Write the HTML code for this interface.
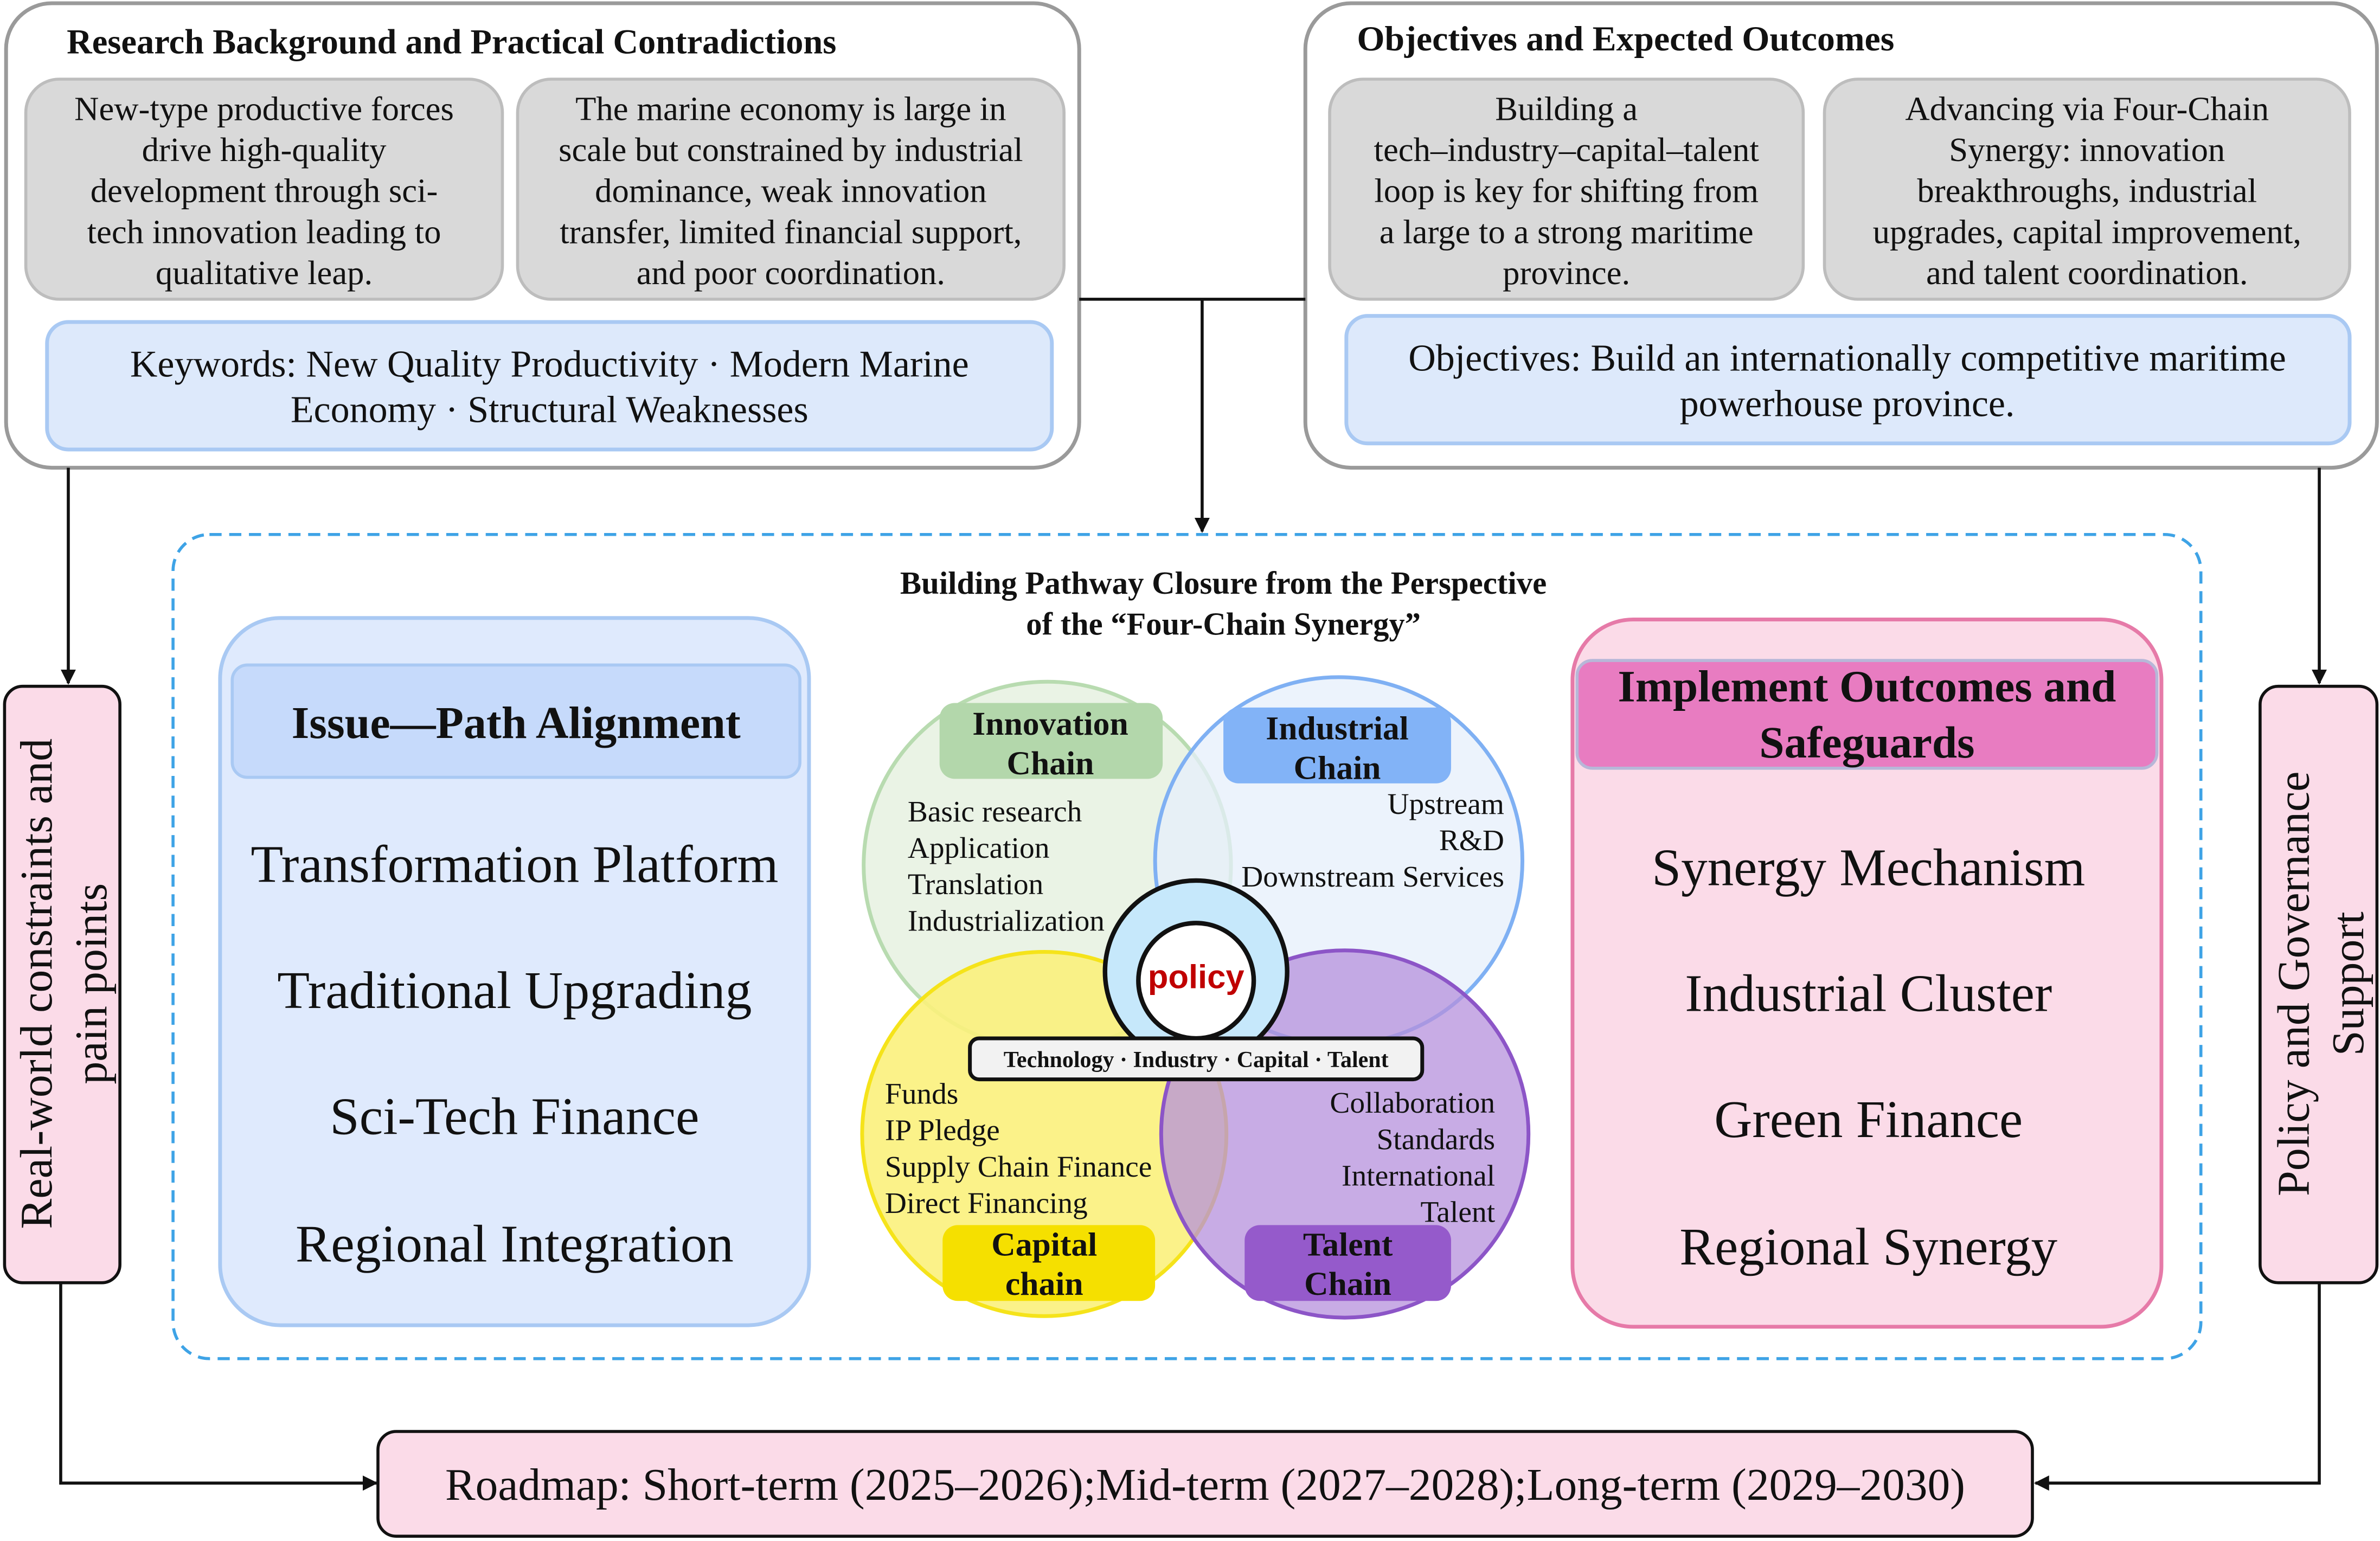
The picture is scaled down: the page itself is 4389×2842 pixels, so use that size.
<!DOCTYPE html>
<html><head><meta charset="utf-8">
<style>
html,body{margin:0;padding:0;background:#fff;}
svg{display:block;}
text{font-family:"Liberation Serif",serif;fill:#111;}
.b{font-weight:bold;}
</style></head>
<body>
<svg width="4389" height="2842" viewBox="0 0 1568 1015" xmlns="http://www.w3.org/2000/svg">
<defs>
<marker id="ar" markerWidth="10" markerHeight="10" refX="9" refY="5" orient="auto" markerUnits="userSpaceOnUse">
<path d="M0,0 L10,5 L0,10 Z" fill="#111"/></marker>
</defs>

<!-- Top left panel -->
<rect x="4" y="2" width="707" height="306" rx="30" fill="#fff" stroke="#9a9a9a" stroke-width="2.5"/>
<text x="44" y="35" font-size="23" font-weight="bold" textLength="507" lengthAdjust="spacingAndGlyphs">Research Background and Practical Contradictions</text>
<rect x="17" y="52" width="314" height="145" rx="22" fill="#d9d9d9" stroke="#bdbdbd" stroke-width="2"/>
<g font-size="22.4" text-anchor="middle">
<text x="174" y="79">New-type productive forces</text>
<text x="174" y="106">drive high-quality</text>
<text x="174" y="133">development through sci-</text>
<text x="174" y="160">tech innovation leading to</text>
<text x="174" y="187">qualitative leap.</text>
</g>
<rect x="341" y="52" width="360" height="145" rx="22" fill="#d9d9d9" stroke="#bdbdbd" stroke-width="2"/>
<g font-size="22.4" text-anchor="middle">
<text x="521" y="79">The marine economy is large in</text>
<text x="521" y="106">scale but constrained by industrial</text>
<text x="521" y="133">dominance, weak innovation</text>
<text x="521" y="160">transfer, limited financial support,</text>
<text x="521" y="187">and poor coordination.</text>
</g>
<rect x="31" y="212" width="662" height="84" rx="14" fill="#dde9fb" stroke="#a9c9f3" stroke-width="2.5"/>
<g font-size="25" text-anchor="middle">
<text x="362" y="248">Keywords: New Quality Productivity · Modern Marine</text>
<text x="362" y="278">Economy · Structural Weaknesses</text>
</g>

<!-- Top right panel -->
<rect x="860" y="2" width="706" height="306" rx="30" fill="#fff" stroke="#9a9a9a" stroke-width="2.5"/>
<text x="894" y="33" font-size="23" font-weight="bold" textLength="354" lengthAdjust="spacingAndGlyphs">Objectives and Expected Outcomes</text>
<rect x="876" y="52" width="312" height="145" rx="22" fill="#d9d9d9" stroke="#bdbdbd" stroke-width="2"/>
<g font-size="22.4" text-anchor="middle">
<text x="1032" y="79">Building a</text>
<text x="1032" y="106">tech–industry–capital–talent</text>
<text x="1032" y="133">loop is key for shifting from</text>
<text x="1032" y="160">a large to a strong maritime</text>
<text x="1032" y="187">province.</text>
</g>
<rect x="1202" y="52" width="346" height="145" rx="22" fill="#d9d9d9" stroke="#bdbdbd" stroke-width="2"/>
<g font-size="22.4" text-anchor="middle">
<text x="1375" y="79">Advancing via Four-Chain</text>
<text x="1375" y="106">Synergy: innovation</text>
<text x="1375" y="133">breakthroughs, industrial</text>
<text x="1375" y="160">upgrades, capital improvement,</text>
<text x="1375" y="187">and talent coordination.</text>
</g>
<rect x="887" y="208" width="661" height="84" rx="14" fill="#dde9fb" stroke="#a9c9f3" stroke-width="2.5"/>
<g font-size="25" text-anchor="middle">
<text x="1217" y="244">Objectives: Build an internationally competitive maritime</text>
<text x="1217" y="274">powerhouse province.</text>
</g>

<!-- Connectors top -->
<path d="M711,197 L860,197" stroke="#111" stroke-width="2" fill="none"/>
<path d="M792,197 L792,350" stroke="#111" stroke-width="2" fill="none" marker-end="url(#ar)"/>
<path d="M45,308 L45,450" stroke="#111" stroke-width="2" fill="none" marker-end="url(#ar)"/>
<path d="M1528,308 L1528,450" stroke="#111" stroke-width="2" fill="none" marker-end="url(#ar)"/>

<!-- Side boxes -->
<rect x="3" y="452" width="76" height="393" rx="12" fill="#fbdbe8" stroke="#111" stroke-width="2"/>
<text transform="translate(34,648) rotate(-90)" font-size="30" text-anchor="middle">Real-world constraints and</text>
<text transform="translate(70,648) rotate(-90)" font-size="30" text-anchor="middle">pain points</text>
<rect x="1489" y="452" width="77" height="393" rx="12" fill="#fbdbe8" stroke="#111" stroke-width="2"/>
<text transform="translate(1521,648) rotate(-90)" font-size="30" text-anchor="middle">Policy and Governance</text>
<text transform="translate(1557,648) rotate(-90)" font-size="30" text-anchor="middle">Support</text>

<!-- Bottom connectors -->
<path d="M40,845 L40,977 L248,977" stroke="#111" stroke-width="2" fill="none" marker-end="url(#ar)"/>
<path d="M1528,845 L1528,977 L1341,977" stroke="#111" stroke-width="2" fill="none" marker-end="url(#ar)"/>
<rect x="249" y="943" width="1090" height="69" rx="12" fill="#fbdbe8" stroke="#111" stroke-width="2"/>
<text x="794" y="988" font-size="29.8" text-anchor="middle">Roadmap: Short-term (2025–2026);Mid-term (2027–2028);Long-term (2029–2030)</text>

<!-- Dashed frame -->
<rect x="114" y="352" width="1336" height="543" rx="24" fill="none" stroke="#3ea3e6" stroke-width="2" stroke-dasharray="8,5"/>
<text x="593" y="391" font-size="21" font-weight="bold" textLength="426" lengthAdjust="spacingAndGlyphs">Building Pathway Closure from the Perspective</text>
<text x="676" y="418" font-size="21" font-weight="bold" textLength="260" lengthAdjust="spacingAndGlyphs">of the “Four-Chain Synergy”</text>

<!-- Left panel -->
<rect x="145" y="407" width="388" height="466" rx="40" fill="#dfeafd" stroke="#a9c9f3" stroke-width="2.5"/>
<rect x="153" y="438" width="374" height="74" rx="10" fill="#c6dafb" stroke="#a9c9f3" stroke-width="2"/>
<text x="340" y="486" font-size="30" class="b" text-anchor="middle">Issue—Path Alignment</text>
<g font-size="35" text-anchor="middle">
<text x="339" y="581">Transformation Platform</text>
<text x="339" y="664">Traditional Upgrading</text>
<text x="339" y="747">Sci-Tech Finance</text>
<text x="339" y="831">Regional Integration</text>
</g>

<!-- Right panel -->
<rect x="1036" y="408" width="388" height="466" rx="40" fill="#fbdbe8" stroke="#e67aa8" stroke-width="2.5"/>
<rect x="1039" y="435" width="382" height="71" rx="10" fill="#e87cc1" stroke="#b7b7d8" stroke-width="2"/>
<g font-size="29.7" class="b" text-anchor="middle">
<text x="1230" y="462">Implement Outcomes and</text>
<text x="1230" y="499">Safeguards</text>
</g>
<g font-size="34.7" text-anchor="middle">
<text x="1231" y="583">Synergy Mechanism</text>
<text x="1231" y="666">Industrial Cluster</text>
<text x="1231" y="749">Green Finance</text>
<text x="1231" y="833">Regional Synergy</text>
</g>

<!-- Venn -->
<circle cx="690" cy="570" r="121" fill="#e6f1e1" fill-opacity="0.85" stroke="#b8dbb0" stroke-width="2.5"/>
<circle cx="882" cy="567" r="121" fill="#e6effb" fill-opacity="0.75" stroke="#7fb0f3" stroke-width="2.5"/>
<circle cx="688" cy="747" r="120" fill="#fbf17c" fill-opacity="0.9" stroke="#f5e31a" stroke-width="2.5"/>
<circle cx="886" cy="747" r="121" fill="#b590dc" fill-opacity="0.75" stroke="#8c55c7" stroke-width="2.5"/>

<rect x="619" y="463" width="147" height="50" rx="10" fill="#b3d7ab"/>
<g font-size="22" class="b" text-anchor="middle"><text x="692" y="484">Innovation</text><text x="692" y="510">Chain</text></g>
<rect x="806" y="466" width="150" height="50" rx="10" fill="#82b3f7"/>
<g font-size="22" class="b" text-anchor="middle"><text x="881" y="487">Industrial</text><text x="881" y="513">Chain</text></g>
<rect x="621" y="807" width="140" height="50" rx="10" fill="#f5e000"/>
<g font-size="22" class="b" text-anchor="middle"><text x="688" y="827">Capital</text><text x="688" y="853">chain</text></g>
<rect x="820" y="807" width="136" height="50" rx="10" fill="#955acb"/>
<g font-size="22" class="b" text-anchor="middle"><text x="888" y="827">Talent</text><text x="888" y="853">Chain</text></g>

<g font-size="19.8">
<text x="598" y="541">Basic research</text>
<text x="598" y="565">Application</text>
<text x="598" y="589">Translation</text>
<text x="598" y="613">Industrialization</text>
</g>
<g font-size="19.8" text-anchor="end">
<text x="991" y="536">Upstream</text>
<text x="991" y="560">R&amp;D</text>
<text x="991" y="584">Downstream Services</text>
</g>
<g font-size="19.8">
<text x="583" y="727">Funds</text>
<text x="583" y="751">IP Pledge</text>
<text x="583" y="775">Supply Chain Finance</text>
<text x="583" y="799">Direct Financing</text>
</g>
<g font-size="19.8" text-anchor="end">
<text x="985" y="733">Collaboration</text>
<text x="985" y="757">Standards</text>
<text x="985" y="781">International</text>
<text x="985" y="805">Talent</text>
</g>

<circle cx="788" cy="640" r="60" fill="#c6e8fb" stroke="#111" stroke-width="3"/>
<circle cx="788" cy="646" r="38" fill="#fff" stroke="#111" stroke-width="3"/>
<text x="788" y="651" font-size="22" class="b" text-anchor="middle" style="font-family:'Liberation Sans',sans-serif;fill:#c00000;">policy</text>

<rect x="639" y="684" width="298" height="27" rx="6" fill="#f2f2f2" stroke="#111" stroke-width="2.5"/>
<text x="788" y="703" font-size="15" class="b" text-anchor="middle">Technology · Industry · Capital · Talent</text>
</svg>
</body></html>
